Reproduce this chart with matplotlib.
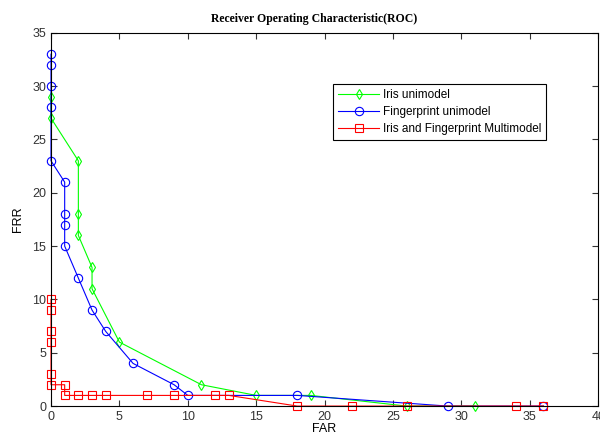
import matplotlib
matplotlib.use("Agg")
import matplotlib.pyplot as plt

# Iris unimodel
iris_far = [0, 0, 2, 2, 2, 3, 3, 5, 11, 15, 19, 26, 31]
iris_frr = [29, 27, 23, 18, 16, 13, 11, 6, 2, 1, 1, 0, 0]

# Fingerprint unimodel
fp_far = [0, 0, 0, 0, 0, 1, 1, 1, 1, 2, 3, 4, 6, 9, 10, 18, 29, 36]
fp_frr = [33, 32, 30, 28, 23, 21, 18, 17, 15, 12, 9, 7, 4, 2, 1, 1, 0, 0]

# Iris and Fingerprint Multimodel
multi_far = [0, 0, 0, 0, 0, 0, 1, 1, 2, 3, 4, 7, 9, 12, 13, 18, 22, 26, 34, 36]
multi_frr = [10, 9, 7, 6, 3, 2, 2, 1, 1, 1, 1, 1, 1, 1, 1, 0, 0, 0, 0, 0]

plt.rcParams['font.family'] = ['Liberation Sans', 'DejaVu Sans']

fig = plt.figure(figsize=(6, 4.32), dpi=100)
ax = fig.add_axes([0.085, 0.06, 0.912, 0.864])

ax.plot(iris_far, iris_frr, color='#00ff00', marker='d', mfc='none', ms=5, lw=0.8, mew=0.8,
        clip_on=False, label='Iris unimodel')
ax.plot(fp_far, fp_frr, color='#0000ff', marker='o', mfc='none', ms=6, lw=0.8, mew=0.8,
        clip_on=False, label='Fingerprint unimodel')
ax.plot(multi_far, multi_frr, color='#ff0000', marker='s', mfc='none', ms=6, lw=0.8, mew=0.8,
        clip_on=False, label='Iris and Fingerprint Multimodel')

ax.set_xlim(0, 40)
ax.set_ylim(0, 35)
ax.set_xticks(range(0, 41, 5))
ax.set_yticks(range(0, 36, 5))
ax.tick_params(direction='in', top=True, right=True, labelsize=9, colors='#333333', length=4)
for s in ax.spines.values():
    s.set_linewidth(0.8)

ax.set_xlabel('FAR', fontsize=9, labelpad=0)
ax.set_ylabel('FRR', fontsize=9, labelpad=6)
ax.set_title('Receiver Operating Characteristic(ROC)', fontsize=8.5, fontweight='bold',
             family='Liberation Serif', pad=8, x=0.481)

leg = ax.legend(loc='upper left', bbox_to_anchor=(0.516, 0.863), fontsize=8.5,
                fancybox=False, framealpha=1, edgecolor='black', borderpad=0.4,
                labelspacing=0.45, handlelength=3.5, handletextpad=0.3, borderaxespad=0)
leg.get_frame().set_linewidth(0.8)

plt.savefig('out.png')
